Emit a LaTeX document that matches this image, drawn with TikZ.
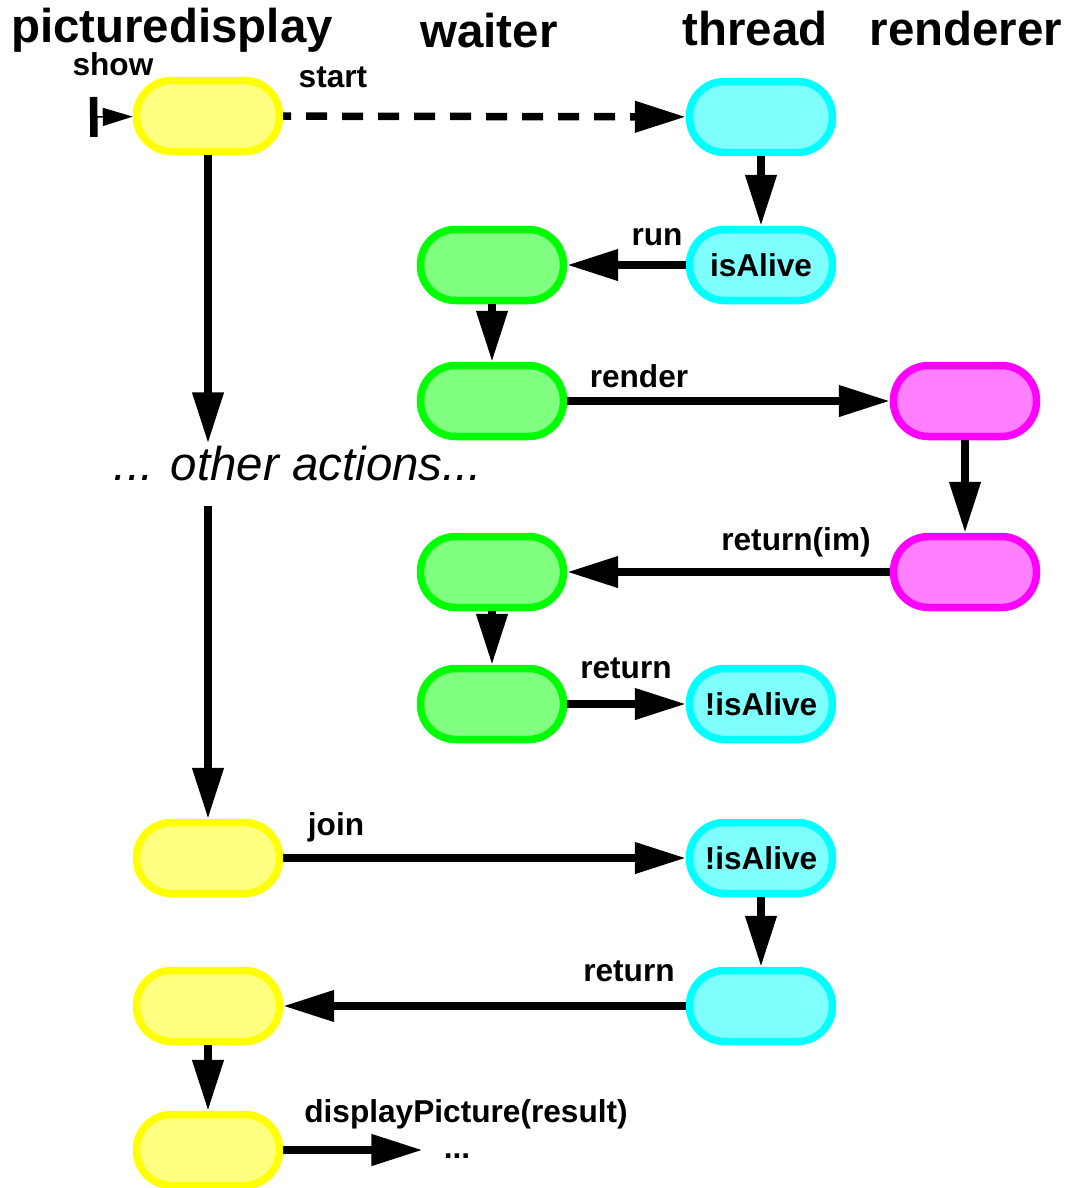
\documentclass[tikz,border=0pt]{standalone}
\usepackage{fontspec}
\setmainfont{Liberation Sans}
\usepackage{tikz}
\usetikzlibrary{arrows.meta, positioning}
\definecolor{ylwline}{RGB}{255, 255, 0}
\definecolor{ylwfill}{RGB}{255, 255, 128}
\definecolor{cynline}{RGB}{0, 255, 255}
\definecolor{cynfill}{RGB}{128, 255, 255}
\definecolor{grnline}{RGB}{0, 255, 0}
\definecolor{grnfill}{RGB}{128, 255, 128}
\definecolor{mgtline}{RGB}{255, 0, 255}
\definecolor{mgtfill}{RGB}{255, 128, 255}

\begin{document}
\begin{tikzpicture}[x=0.02cm, y=-0.02cm,
    box/.style={draw, line width=0.15cm, rounded corners=0.7cm, minimum width=2.86cm, minimum height=1.42cm,
        inner sep=0pt, font=\fontsize{18}{21}\selectfont\bfseries},
    pdbox/.style={box, draw=ylwline, fill=ylwfill},
    thbox/.style={box, draw=cynline, fill=cynfill},
    wtbox/.style={box, draw=grnline, fill=grnfill},
    rdbox/.style={box, draw=mgtline, fill=mgtfill},
    call/.style={line width=0.15cm, -{Triangle[length=1.02cm, width=0.6cm]}},
    head/.style={anchor=base, inner sep=0pt, font=\fontsize{27}{32}\selectfont\bfseries},
    lbl/.style={anchor=base, inner sep=0pt, font=\fontsize{18}{21}\selectfont\bfseries}]
    \useasboundingbox (0,0) rectangle (1070,1188); % ganze Seite

    % Spaltenköpfe
    \node[head] (hpd) at (172,42) {picturedisplay};
    \node[head] (hwt) at (489,47) {waiter};
    \node[head] (hth) at (755,45) {thread};
    \node[head] (hrd) at (966,45) {renderer};

    % picturedisplay (gelb)
    \node[pdbox] (pd1) at (208,116) {};
    \node[pdbox] (pd2) at (208,858) {};
    \node[pdbox] (pd3) at (208,1006) {};
    \node[pdbox] (pd4) at (208,1150) {};

    % thread (cyan)
    \node[thbox] (th1) at (761,117) {};
    \node[thbox] (th2) at (761,265) {isAlive};
    \node[thbox] (th3) at (761,704) {!isAlive};
    \node[thbox] (th4) at (761,858) {!isAlive};
    \node[thbox] (th5) at (761,1006) {};

    % waiter (grün)
    \node[wtbox] (wt1) at (492,265) {};
    \node[wtbox] (wt2) at (492,401) {};
    \node[wtbox] (wt3) at (492,572) {};
    \node[wtbox] (wt4) at (492,704) {};

    % renderer (magenta)
    \node[rdbox] (rd1) at (965,401) {};
    \node[rdbox] (rd2) at (965,572) {};

    % Zwischentext und Ende
    \node[anchor=base, inner sep=0.04cm, text depth=0.48cm, font=\fontsize{27}{32}\selectfont\itshape] (acts) at (298,480) {... other actions...};
    \node[lbl, inner xsep=0.42cm] (more) at (457,1158) {...};

    % show
    \coordinate (showin) at (90,117);
    \draw[line width=0.03cm, {Bar[width=0.8cm, line width=0.15cm]}-{Triangle[length=0.6cm, width=0.36cm]}] (showin) -- (pd1);
    \node[lbl] (lshow) at (113,75) {show};

    % start (gestrichelt)
    \draw[call, dash pattern=on 0.42cm off 0.3cm, dash phase=0.26cm] (pd1) -- (th1);
    \node[lbl] (lstart) at (333,87) {start};

    % thread -> waiter -> renderer
    \draw[call] (th1) -- (th2);
    \draw[call] (th2) -- (wt1);
    \node[lbl] (lrun) at (657,245) {run};
    \draw[call] (wt1) -- (wt2);
    \draw[call] (wt2) -- (rd1);
    \node[lbl] (lrender) at (639,387) {render};
    \draw[call] (rd1) -- (rd2);
    \draw[call] (rd2) -- (wt3);
    \node[lbl] (lretim) at (796,550) {return(im)};
    \draw[call] (wt3) -- (wt4);
    \draw[call] (wt4) -- (th3);
    \node[lbl] (lret1) at (626,678) {return};

    % picturedisplay wartet
    \draw[call] (pd1) -- (pd1 |- acts.north);
    \draw[call] (pd1 |- acts.south) -- (pd2);
    \draw[call] (pd2) -- (th4);
    \node[lbl] (ljoin) at (336,835) {join};
    \draw[call] (th4) -- (th5);
    \draw[call] (th5) -- (pd3);
    \node[lbl] (lret2) at (629,981) {return};
    \draw[call] (pd3) -- (pd4);
    \draw[call] (pd4) -- (pd4 -| more.west);
    \node[lbl] (ldisp) at (466,1122) {displayPicture(result)};
\end{tikzpicture}
\end{document}
